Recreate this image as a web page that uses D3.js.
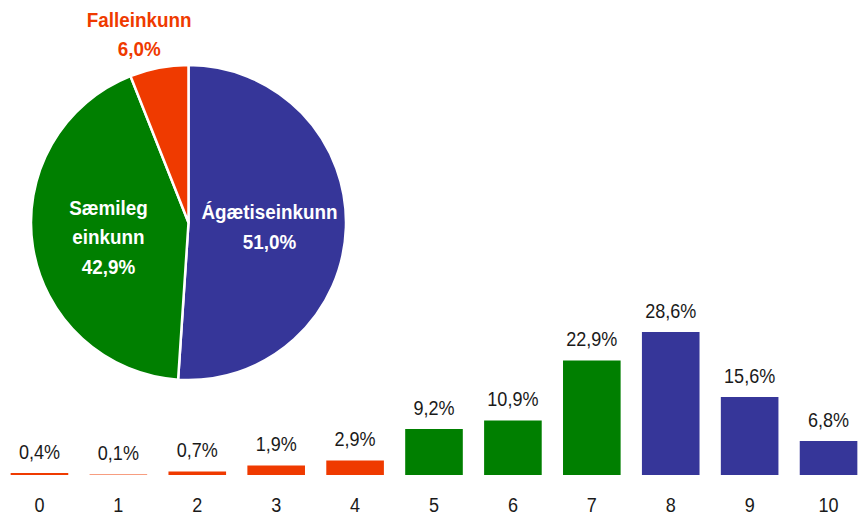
<!DOCTYPE html>
<html>
<head>
<meta charset="utf-8">
<script src="https://cdn.jsdelivr.net/npm/d3@7"></script>
<style>
  html, body { margin: 0; padding: 0; background: #fff; }
  svg { display: block; font-family: "Liberation Sans", Arial, Helvetica, sans-serif; }
</style>
</head>
<body>
<svg id="chart" width="859" height="518"></svg>
<script>
// Grade distribution (share of students per grade, %)
const grades = ["0", "1", "2", "3", "4", "5", "6", "7", "8", "9", "10"];
const gradeShares = [0.4, 0.1, 0.7, 1.9, 2.9, 9.2, 10.9, 22.9, 28.6, 15.6, 6.8];
const gradeGroup = [2, 2, 2, 2, 2, 1, 1, 1, 0, 0, 0];

// Grade bands (share of students per band, %)
const bandNames = ["Ágætiseinkunn", "Sæmileg einkunn", "Falleinkunn"];
const bandShares = [51.0, 42.9, 6.0];
const bandColors = ["#363699", "#007f00", "#ef3a00"];
const bandLabelInside = [true, true, false];

const W = 859, H = 518;
const svg = d3.select("#chart");

// Narrow-looking type: regular and bold text is squeezed horizontally
const FS = 20.5, SQ = 0.88, SQB = 0.92;

const isLocale = d3.formatLocale({ decimal: ",", thousands: ".", grouping: [3], currency: ["", " kr."] });
const pct = v => isLocale.format(".1f")(v) + "%";

// ---- Bar chart ----
const x = d3.scaleBand().domain(grades).range([0, 868]).paddingInner(0.27).paddingOuter(0.135);
const y = d3.scaleLinear().domain([0, 30]).range([475, 325]);

const bars = svg.append("g").attr("class", "bars");
bars.selectAll("rect")
  .data(grades)
  .join("rect")
  .attr("x", d => x(d))
  .attr("width", x.bandwidth())
  .attr("y", (d, i) => y(gradeShares[i]))
  .attr("height", (d, i) => y(0) - y(gradeShares[i]))
  .attr("fill", (d, i) => bandColors[gradeGroup[i]]);

bars.selectAll("text.value")
  .data(grades)
  .join("text")
  .attr("class", "value")
  .attr("transform", (d, i) =>
    `translate(${x(d) + x.bandwidth() / 2},${y(gradeShares[i]) - 14.5}) scale(${SQ},1)`)
  .attr("text-anchor", "middle")
  .attr("font-size", FS)
  .attr("fill", "#1a1a1a")
  .text((d, i) => pct(gradeShares[i]));

const xAxis = svg.append("g")
  .attr("transform", `translate(0,${y(0)})`)
  .call(d3.axisBottom(x).tickSize(0).tickPadding(0));
xAxis.select(".domain").remove();
xAxis.selectAll("text")
  .attr("font-size", FS)
  .attr("fill", "#1a1a1a")
  .attr("font-family", "'Liberation Sans', Arial, sans-serif")
  .attr("dy", null)
  .attr("y", 0)
  .attr("transform", `translate(0,37) scale(${SQ},1)`);

// ---- Pie chart ----
const cx = 188.5, cy = 222.5, R = 157.5;
const pie = d3.pie().sort(null).value(d => d);
const arcs = pie(bandShares);
const arc = d3.arc().innerRadius(0).outerRadius(R);
const labelArcIn = d3.arc().innerRadius(81).outerRadius(81);
const labelArcOut = d3.arc().innerRadius(R + 36).outerRadius(R + 36);

const pg = svg.append("g").attr("transform", `translate(${cx},${cy})`);
pg.selectAll("path")
  .data(arcs)
  .join("path")
  .attr("d", arc)
  .attr("fill", (d, i) => bandColors[i])
  .attr("stroke", "#fff")
  .attr("stroke-width", 2.5)
  .attr("stroke-linejoin", "round");

const lineH = 29.5;
pg.selectAll("text.slice")
  .data(arcs)
  .join("text")
  .attr("class", "slice")
  .attr("text-anchor", "middle")
  .attr("font-size", FS)
  .attr("font-weight", "bold")
  .attr("fill", (d, i) => bandLabelInside[i] ? "#fff" : bandColors[i])
  .each(function (d, i) {
    const inside = bandLabelInside[i];
    const [px, py] = inside ? labelArcIn.centroid(d) : labelArcOut.centroid(d);
    const lines = bandNames[i].split(" ").concat([pct(bandShares[i])]);
    const top = py - (lines.length - 1) * lineH / 2 + 9;
    const t = d3.select(this)
      .attr("transform", `translate(${inside ? px : px - 13},0) scale(${SQB},1)`);
    lines.forEach((ln, k) => {
      t.append("tspan")
        .attr("x", 0)
        .attr("y", top + k * lineH)
        .text(ln);
    });
  });
</script>
</body>
</html>
